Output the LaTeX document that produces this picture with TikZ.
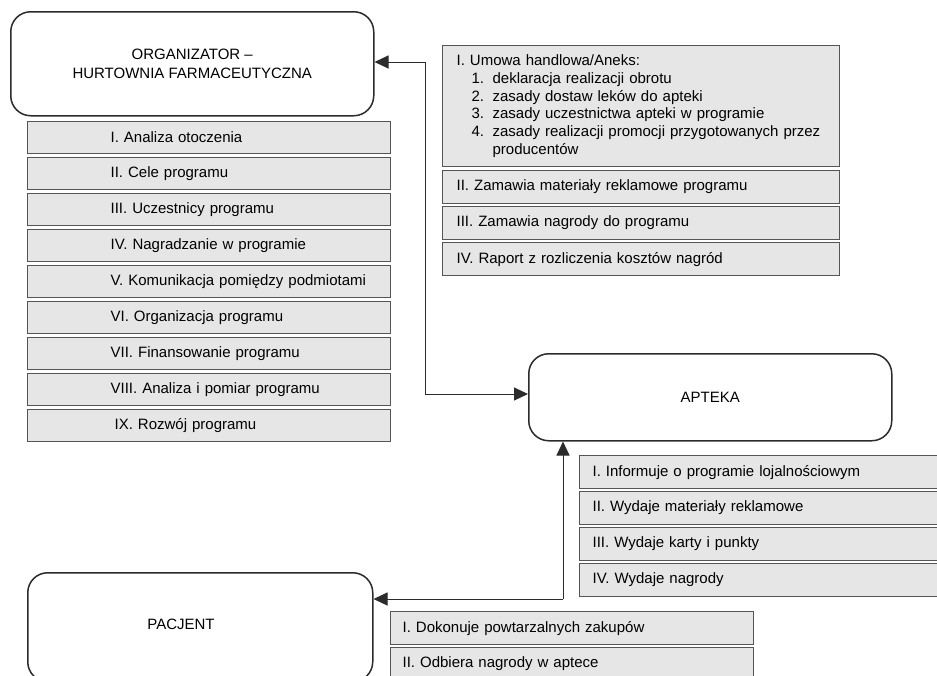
\documentclass[tikz,border=0pt]{standalone}
\usepackage{fontspec}
\setmainfont{Liberation Sans}
\usetikzlibrary{arrows.meta}
\definecolor{boxfill}{HTML}{E6E6E7}
\definecolor{boxline}{HTML}{555555}
\definecolor{lineclr}{HTML}{2B2B2B}
\begin{document}
\begin{tikzpicture}[x=1pt,y=-1pt,
  every node/.style={font=\fontsize{15pt}{19pt}\selectfont},
  bigbox/.style={draw=lineclr, line width=1.5pt, rounded corners=20pt, fill=white, anchor=north west, inner sep=0pt, align=center},
  listbox/.style={draw=boxline, line width=1.2pt, fill=boxfill, anchor=north west, inner sep=0pt, align=left},
  conn/.style={draw=lineclr, line width=1pt},
  arrhead/.style={-{Triangle[length=14pt,width=13pt]}}
]
\useasboundingbox (0,0) rectangle (937,675);

% main boxes
\node[bigbox, minimum width=363pt, minimum height=104pt] (org) at (10,11)
  {ORGANIZATOR –\\HURTOWNIA FARMACEUTYCZNA};
\node[bigbox, minimum width=363pt, minimum height=87pt] (apteka) at (528,353) {APTEKA};
\node[bigbox, minimum width=345pt, minimum height=109pt] (pacjent) at (27,572) {};
\node (pactext) at (181,624) {PACJENT};

% left list
\node[listbox, minimum width=363pt, minimum height=32pt, text width=363pt] (l1) at (27,121) {\hspace*{83pt}I. Analiza otoczenia};
\node[listbox, minimum width=363pt, minimum height=32pt, text width=363pt] (l2) at (27,157) {\hspace*{83pt}II. Cele programu};
\node[listbox, minimum width=363pt, minimum height=32pt, text width=363pt] (l3) at (27,193) {\hspace*{83pt}III. Uczestnicy programu};
\node[listbox, minimum width=363pt, minimum height=32pt, text width=363pt] (l4) at (27,229) {\hspace*{83pt}IV. Nagradzanie w programie};
\node[listbox, minimum width=363pt, minimum height=32pt, text width=363pt] (l5) at (27,265) {\hspace*{83pt}V. Komunikacja pomiędzy podmiotami};
\node[listbox, minimum width=363pt, minimum height=32pt, text width=363pt] (l6) at (27,301) {\hspace*{83pt}VI. Organizacja programu};
\node[listbox, minimum width=363pt, minimum height=32pt, text width=363pt] (l7) at (27,337) {\hspace*{83pt}VII. Finansowanie programu};
\node[listbox, minimum width=363pt, minimum height=32pt, text width=363pt] (l8) at (27,373) {\hspace*{83pt}VIII. Analiza i pomiar programu};
\node[listbox, minimum width=363pt, minimum height=32pt, text width=363pt] (l9) at (27,409) {\hspace*{87pt}IX. Rozwój programu};

% top right list
\node[listbox, minimum width=397pt, minimum height=121pt, text width=397pt,
      font=\fontsize{15pt}{17.8pt}\selectfont] (r1) at (442,45)
  {\hspace*{14pt}I. Umowa handlowa/Aneks:\\
   \hspace*{29pt}\makebox[21pt][l]{1.}deklaracja realizacji obrotu\\
   \hspace*{29pt}\makebox[21pt][l]{2.}zasady dostaw leków do apteki\\
   \hspace*{29pt}\makebox[21pt][l]{3.}zasady uczestnictwa apteki w programie\\
   \hspace*{29pt}\makebox[21pt][l]{4.}zasady realizacji promocji przygotowanych przez\\
   \hspace*{50pt}producentów};
\node[listbox, minimum width=397pt, minimum height=33pt, text width=397pt] (r2) at (442,170) {\hspace*{14pt}II. Zamawia materiały reklamowe programu};
\node[listbox, minimum width=397pt, minimum height=33pt, text width=397pt] (r3) at (442,206) {\hspace*{14pt}III. Zamawia nagrody do programu};
\node[listbox, minimum width=397pt, minimum height=33pt, text width=397pt] (r4) at (442,242) {\hspace*{14pt}IV. Raport z rozliczenia kosztów nagród};

% apteka list
\node[listbox, minimum width=362pt, minimum height=33pt, text width=362pt] (a1) at (579,455) {\hspace*{13pt}I. Informuje o programie lojalnościowym};
\node[listbox, minimum width=362pt, minimum height=33pt, text width=362pt] (a2) at (579,491) {\hspace*{13pt}II. Wydaje materiały reklamowe};
\node[listbox, minimum width=362pt, minimum height=33pt, text width=362pt] (a3) at (579,527) {\hspace*{13pt}III. Wydaje karty i punkty};
\node[listbox, minimum width=362pt, minimum height=33pt, text width=362pt] (a4) at (579,563) {\hspace*{13pt}IV. Wydaje nagrody};

% pacjent list
\node[listbox, minimum width=363pt, minimum height=33pt, text width=363pt] (p1) at (390,611) {\hspace*{12pt}I. Dokonuje powtarzalnych zakupów};
\node[listbox, minimum width=363pt, minimum height=33pt, text width=363pt] (p2) at (390,647) {\hspace*{12pt}II. Odbiera nagrody w aptece};

% connectors
\coordinate (c1) at (425,62);
\coordinate (c2) at (425,394);
\coordinate (c3) at (563,599);
\draw[conn, arrhead] (c1) -- (c1 -| org.east);
\draw[conn, arrhead] (c1) -- (c2) -- (c2 -| apteka.west);
\draw[conn, arrhead] (c3) -- (c3 -| pacjent.east);
\draw[conn, arrhead] (c3) -- (c3 |- apteka.south);
\end{tikzpicture}
\end{document}
